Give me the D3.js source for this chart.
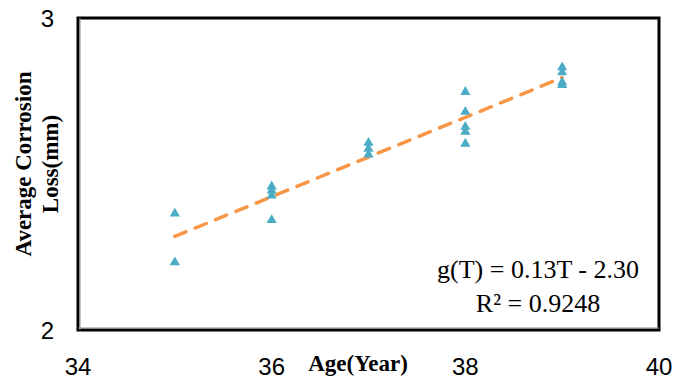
<!DOCTYPE html>
<html>
<head>
<meta charset="utf-8">
<script src="https://cdn.jsdelivr.net/npm/d3@7"></script>
<style>
  body { margin: 0; background: #fff; }
  .tick-label { font-family: "Liberation Sans", Arial, sans-serif; font-size: 24px; fill: #000; }
  .axis-title { font-family: "Liberation Serif", "Times New Roman", serif; font-size: 23px; font-weight: bold; fill: #000; }
  .eq { font-family: "Liberation Serif", "Times New Roman", serif; font-size: 26px; fill: #000; }
</style>
</head>
<body>
<div id="chart"></div>
<script>
// measured points, age in years vs loss in mm
var ages   = [35, 35, 36, 36, 36, 36, 37, 37, 37, 38, 38, 38, 38, 38, 39, 39, 39, 39];
var losses = [2.373, 2.217, 2.460, 2.447, 2.431, 2.352, 2.600, 2.581, 2.562,
              2.763, 2.699, 2.651, 2.635, 2.597, 2.842, 2.826, 2.794, 2.785];
var xTicks = [34, 36, 38, 40];
var yTicks = [2, 3];
var eqLines = ["g(T) = 0.13T - 2.30", "R\u00b2 = 0.9248"];

var width = 684, height = 381;
var plotL = 78, plotR = 659, plotT = 18, plotB = 330;

var svg = d3.select("#chart").append("svg")
    .attr("width", width)
    .attr("height", height);

var x = d3.scaleLinear().domain([34, 40]).range([plotL, plotR]);
var y = d3.scaleLinear().domain([2, 3]).range([plotB, plotT]);

// frame
svg.append("rect")
    .attr("x", plotL).attr("y", plotT)
    .attr("width", plotR - plotL).attr("height", plotB - plotT)
    .attr("fill", "none")
    .attr("stroke", "#000")
    .attr("stroke-width", 3);
// axis lines (gray, inside the frame on left & bottom)
svg.append("line")
    .attr("x1", plotL + 2).attr("y1", plotT).attr("x2", plotL + 2).attr("y2", plotB)
    .attr("stroke", "#8c8c8c").attr("stroke-width", 1);
svg.append("line")
    .attr("x1", plotL).attr("y1", plotB - 2).attr("x2", plotR).attr("y2", plotB - 2)
    .attr("stroke", "#8c8c8c").attr("stroke-width", 1);

// tick labels
svg.selectAll(".xt").data(xTicks).enter().append("text")
    .attr("class", "tick-label")
    .attr("x", function(d) { return x(d); })
    .attr("y", 375)
    .attr("text-anchor", "middle")
    .text(function(d) { return d; });

svg.selectAll(".yt").data(yTicks).enter().append("text")
    .attr("class", "tick-label")
    .attr("x", 54)
    .attr("y", function(d) { return y(d) + 9; })
    .attr("text-anchor", "end")
    .text(function(d) { return d; });

// least squares trend line
var n = ages.length;
var mx = d3.mean(ages), my = d3.mean(losses);
var sxy = 0, sxx = 0;
for (var i = 0; i < n; i++) {
    sxy += (ages[i] - mx) * (losses[i] - my);
    sxx += (ages[i] - mx) * (ages[i] - mx);
}
var slope = sxy / sxx, icpt = my - slope * mx;
var xr = d3.extent(ages);

svg.append("line")
    .attr("x1", x(xr[0])).attr("y1", y(icpt + slope * xr[0]))
    .attr("x2", x(xr[1])).attr("y2", y(icpt + slope * xr[1]))
    .attr("stroke", "#F79646")
    .attr("stroke-width", 3.5)
    .attr("stroke-linecap", "round")
    .attr("stroke-dasharray", "12,10");

// triangles
var tri = d3.symbol().type(d3.symbolTriangle).size(45);
svg.selectAll(".pt").data(ages).enter().append("path")
    .attr("d", tri)
    .attr("transform", function(d, i) { return "translate(" + x(d) + "," + y(losses[i]) + ")"; })
    .attr("fill", "#4BACC6");

// axis titles
svg.append("text")
    .attr("class", "axis-title")
    .attr("x", 358).attr("y", 371)
    .attr("text-anchor", "middle")
    .text("Age(Year)");

var yt = svg.append("text")
    .attr("class", "axis-title")
    .attr("transform", "translate(31,164) rotate(-90)")
    .attr("text-anchor", "middle");
yt.append("tspan").attr("x", 0).attr("y", 0).text("Average Corrosion");
yt.append("tspan").attr("x", 0).attr("y", 27).text("Loss(mm)");

// equation
svg.selectAll(".eq").data(eqLines).enter().append("text")
    .attr("class", "eq")
    .attr("x", 538)
    .attr("y", function(d, i) { return 278 + i * 34; })
    .attr("text-anchor", "middle")
    .text(function(d) { return d; });
</script>
</body>
</html>
